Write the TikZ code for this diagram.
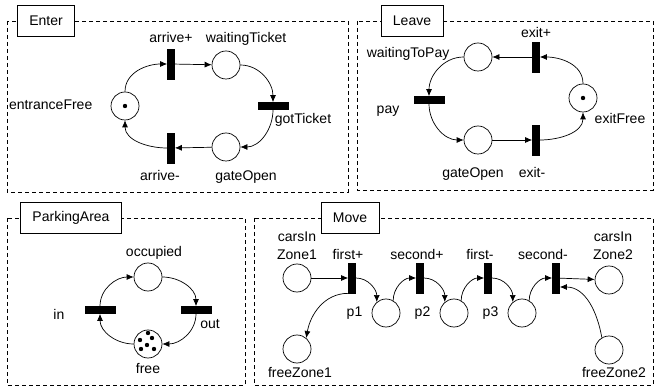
\documentclass[tikz,border=0pt]{standalone}
\usepackage{fontspec}
\setmainfont{Liberation Sans}
\usetikzlibrary{arrows.meta,positioning}

\begin{document}
\begin{tikzpicture}[x=1pt, y=1pt, line width=0.7pt, node distance=68pt,
  font=\fontsize{14}{18}\selectfont,
  >={Latex[length=7pt,width=6pt]},
  place/.style = {draw, circle, minimum size=28pt, inner sep=0pt},
  vbar/.style = {draw, fill, rectangle, minimum width=7pt, minimum height=30pt, inner sep=0pt},
  hbar/.style = {draw, fill, rectangle, minimum width=30pt, minimum height=7pt, inner sep=0pt},
  frame/.style = {dash pattern=on 4pt off 3pt, line width=0.6pt},
  title/.style = {draw, fill=white, minimum height=31pt, inner xsep=12pt},
  label distance=0pt,
  every label/.style = {inner sep=1pt, text height=10pt, text depth=3pt},
  twoline/.style = {align=center, text height={}, text depth={}}]
\useasboundingbox (0,0) rectangle (655,388);

% Enter
\draw[frame] (7,367) rectangle (348,196);
\node[title] (tenter) at (46,367) {Enter};
\node[place] (ef) at (125,282) [label={[xshift=-17pt]left:entranceFree}] {};
\node[vbar] (ap) at (171,324) [label={[yshift=2pt]above:arrive+}] {};
\node[place] (wt) at (226,323) [label={[xshift=20pt,yshift=4pt]above:waitingTicket}] {};
\node[hbar] (gt) at (273,282) [label={[xshift=30pt,yshift=-2pt]below:gotTicket}] {};
\node[place] (go) at (226,241) [label={[xshift=20pt,yshift=-8pt]below:gateOpen}] {};
\node[vbar] (am) at (171,240) [label={[xshift=-11pt,yshift=-6pt]below:arrive-}] {};
\fill (ef) circle (2.2pt);

\draw[->] (ef) to[out=90,in=180] (ap);
\draw[->] (ap) -- (wt);
\draw[->] (wt) to[out=0,in=90] (gt);
\draw[->] (gt) to[out=-90,in=0] (go);
\draw[->] (go) -- (am);
\draw[->] (am) to[out=180,in=-90] (ef);

% Leave
\draw[frame] (357,367) rectangle (653,198);
\node[title] (tleave) at (412,367) {Leave};
\node[place] (wp) at (478,331) [label={[xshift=-13pt,yshift=2.5pt]left:waitingToPay}] {};
\node[vbar] (ep) at (536,331) [label={above:exit+}] {};
\node[place] (xf) at (583,290) [label={[xshift=37pt]below:exitFree}] {};
\node[hbar] (pay) at (429,288) [label={[xshift=-13pt,yshift=-10.5pt]left:pay}] {};
\node[place] (gl) at (478,248) [label={[xshift=-5pt,yshift=-12pt]below:gateOpen}] {};
\node[vbar] (em) at (536,248) [label={[xshift=-4pt,yshift=-11pt]below:exit-}] {};
\fill (xf) circle (2.2pt);

\draw[->] (xf) to[out=90,in=0] (ep);
\draw[->] (ep) -- (wp);
\draw[->] (wp) to[out=180,in=90] (pay);
\draw[->] (pay) to[out=-90,in=180] (gl);
\draw[->] (gl) -- (em);
\draw[->] (em) to[out=0,in=-90] (xf);

% ParkingArea
\draw[frame] (7,170) rectangle (245,3);
\node[title] (tpark) at (71,170) {ParkingArea};
\node[place] (occ) at (148,111) [label={[xshift=6pt,yshift=2pt]above:occupied}] {};
\node[hbar] (pin) at (100,78) [label={[xshift=-19pt,yshift=-6.5pt]left:in}] {};
\node[hbar] (pout) at (196,78) [label={[xshift=14pt,yshift=-3pt]below:out}] {};
\node[place] (free) at (148,44) [label={[yshift=-4pt]below:free}] {};
\foreach \dx/\dy in {0/11, -8/4, 4/6, -1/-1, -7/-5, 6/-5}
  \fill ([shift={(\dx,\dy)}]free.center) circle (2.2pt);

\draw[->] (pin) to[out=90,in=180] (occ);
\draw[->] (occ) to[out=0,in=90] (pout);
\draw[->] (pout) to[out=-90,in=0] (free);
\draw[->] (free) to[out=180,in=-90] (pin);

% Move
\draw[frame] (254,170) rectangle (653,3);
\node[title] (tmove) at (350,170) {Move};
\node[place] (cz1) at (297,110) [label={[twoline,yshift=3pt]above:{carsIn\\Zone1}}] {};
\node[vbar] (fp) at (352,110) [label={[xshift=-4pt,yshift=-1pt]above:first+}] {};
\node[vbar] (sp) [right of=fp, label={[xshift=-3pt,yshift=-1pt]above:second+}] {};
\node[vbar] (fm) [right of=sp, label={[xshift=-8pt,yshift=-1pt]above:first-}] {};
\node[vbar] (sm) [right of=fm, label={[xshift=-13pt,yshift=-1pt]above:second-}] {};
\node[place] (p1) at (386,75) [label={[xshift=-8pt]left:p1}] {};
\node[place] (p2) [right of=p1, label={[xshift=-8pt]left:p2}] {};
\node[place] (p3) [right of=p2, label={[xshift=-8pt]left:p3}] {};
\node[place] (cz2) at (609,108) [label={[twoline,xshift=4pt,yshift=5pt]above:{carsIn\\Zone2}}] {};
\node[place] (fz1) at (297,39) [label={[xshift=3pt,yshift=-3pt]below:freeZone1}] {};
\node[place] (fz2) at (609,38) [label={[xshift=5pt,yshift=-2pt]below:freeZone2}] {};

\draw[->] (cz1) -- (fp);
\draw[->] (fp) to[out=0,in=90] (p1.130);
\draw[->] (fp.south west) to[out=180,in=80] (fz1.50);
\draw[->] (p1.60) to[out=90,in=180] (sp);
\draw[->] (sp) to[out=0,in=90] (p2.130);
\draw[->] (p2.60) to[out=90,in=180] (fm);
\draw[->] (fm) to[out=0,in=90] (p3.130);
\draw[->] (p3.60) to[out=90,in=180] (sm);
\draw[->] (sm) -- (cz2);
\draw[->] (fz2.120) to[out=100,in=0] ([yshift=-9pt]sm.east);

\end{tikzpicture}
\end{document}
